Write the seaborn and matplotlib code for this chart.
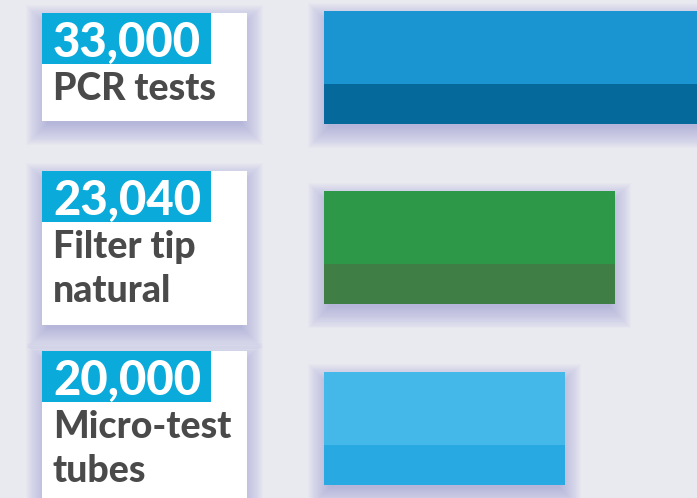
import matplotlib.pyplot as plt
import matplotlib.transforms as mtransforms
from matplotlib.patches import Rectangle
import seaborn as sns
import pandas as pd

# data
items = ['PCR tests', 'Filter tip\nnatural', 'Micro-test\ntubes']
counts = [33000, 23040, 20000]
count_labels = ['33,000', '23,040', '20,000']
top_colors = ['#1b95d2', '#2c9848', '#44b8e9']
bottom_colors = ['#05699c', '#3f7f46', '#29a9e1']

BASE = 5350              # value where the bars start
W, H = 697, 498
PX_PER_UNIT = 50 / 3040  # horizontal scale
ROW_PX = 180.5           # distance between rows
BAR_X_PX = 324
BG = '#e9e9f0'
TEXT = '#4a4a4a'
CYAN = '#0aabda'
SHADOW = '#7070c8'

sns.set_theme(style='white')
plt.rcParams['font.family'] = ['Lato', 'DejaVu Sans']

df = pd.DataFrame({'item': items, 'span': [c - BASE for c in counts]})

fig = plt.figure(figsize=(W / 100, H / 100), dpi=100, facecolor=BG)
ax = fig.add_axes([0, 0, 1, 1])

bar_h = 113 / ROW_PX
sns.barplot(data=df, x='span', y='item', hue='item', palette=top_colors,
            width=bar_h, saturation=1, linewidth=0, legend=False, ax=ax, zorder=2)

# darker lower band of each bar
low_h = 40 / ROW_PX
for i, s in enumerate(df['span']):
    ax.barh(i + bar_h / 2 - low_h / 2, s, height=low_h, left=0,
            color=bottom_colors[i], linewidth=0, zorder=2)

ax.set_xlim(-BAR_X_PX / PX_PER_UNIT, (W - BAR_X_PX) / PX_PER_UNIT)
ax.set_ylim((H - 67.5) / ROW_PX, -67.5 / ROW_PX)
ax.axis('off')

blend = mtransforms.blended_transform_factory(ax.transAxes, ax.transData)


def shadow(x0, y0, w, h, sx, sy, transform):
    # soft shadow: stacked translucent rectangles, shifted down a little
    off = 8 / ROW_PX
    for k in range(22):
        p = k * 1.0 - 5
        ax.add_patch(Rectangle((x0 - p * sx, y0 + off - p * sy), w + 2 * p * sx,
                               h + 2 * p * sy, transform=transform,
                               facecolor=SHADOW, edgecolor='none', alpha=0.02,
                               zorder=1))


for i, s in enumerate(df['span']):
    shadow(0, i - bar_h / 2, s, bar_h, 1 / PX_PER_UNIT, 1 / ROW_PX, ax.transData)

# label cards
card_x, card_w = 42 / W, 205 / W
for i, (lab, num) in enumerate(zip(items, count_labels)):
    lines = lab.split('\n')
    card_h = (62 + 46 * len(lines)) / ROW_PX
    top = i - card_h / 2
    shadow(card_x, top, card_w, card_h, 1 / W, 1 / ROW_PX, blend)
    ax.add_patch(Rectangle((card_x, top), card_w, card_h, transform=blend,
                           facecolor='white', edgecolor='none', zorder=3))
    ax.add_patch(Rectangle((card_x, top), 169 / W, 51 / ROW_PX, transform=blend,
                           facecolor=CYAN, edgecolor='none', zorder=4))
    ax.text(53 / W, top + 44 / ROW_PX, num, transform=blend, color='white',
            fontsize=34, fontweight='black', va='baseline', ha='left', zorder=5)
    for j, line in enumerate(lines):
        ax.text(53 / W, top + (87 + 44 * j) / ROW_PX, line, transform=blend,
                color=TEXT, fontsize=27, fontweight='black', va='baseline',
                ha='left', zorder=5)

fig.savefig('out.png', dpi=100, facecolor=BG)
